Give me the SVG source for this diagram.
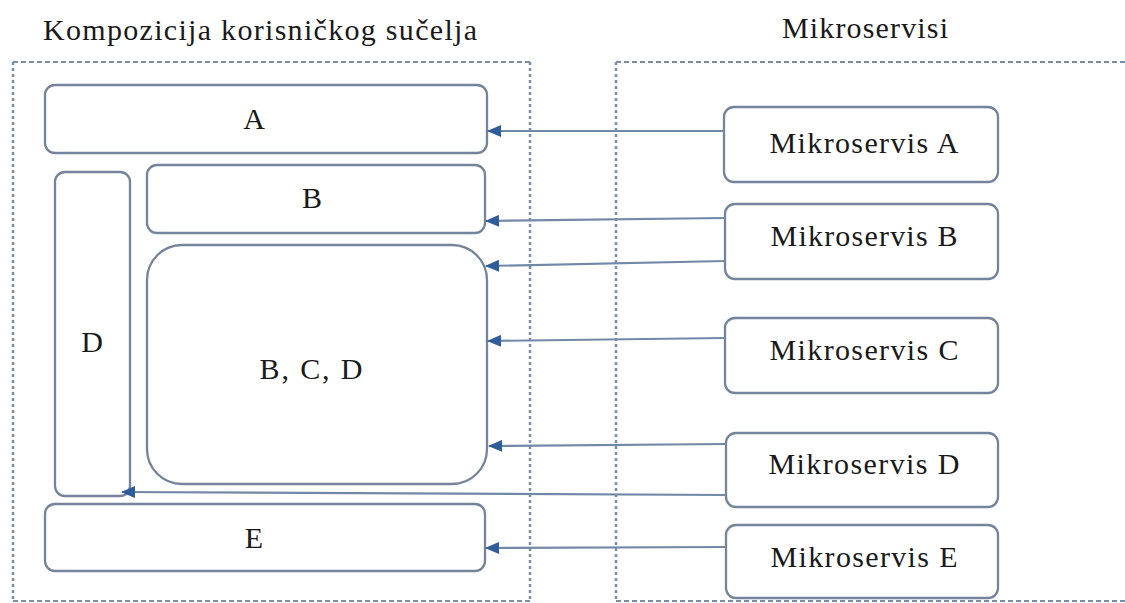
<svg xmlns="http://www.w3.org/2000/svg" width="1125" height="603" viewBox="0 0 1125 603">
<style>
.bg{fill:#ffffff}
.cont{fill:none;stroke:#7b8ea8;stroke-width:2}
.dash{stroke-dasharray:5 3}
.dot{stroke-dasharray:3 3;stroke-width:2.5}
.box{fill:#ffffff;stroke:#74849a;stroke-width:2.3}
.t{font-family:"Liberation Serif","DejaVu Serif",serif;font-size:30px;fill:#1a1a1a;text-anchor:middle}
.h{font-family:"Liberation Serif","DejaVu Serif",serif;font-size:30px;fill:#1a1a1a;text-anchor:middle}
.c{fill:none;stroke:#7289a6;stroke-width:2.2}
</style>
<defs>
<marker id="ah" viewBox="0 0 14 12" refX="13" refY="6" markerWidth="14" markerHeight="12" markerUnits="userSpaceOnUse" orient="auto">
<path d="M0,0 L14,6 L0,12 Z" fill="#2f5d99"/>
</marker>
</defs>
<rect class="bg" x="0" y="0" width="1125" height="603"/>
<g id="containers">
<g id="left-container">
<line class="cont dash" x1="13" y1="62" x2="530" y2="62"/>
<line class="cont dot" x1="13" y1="62" x2="13" y2="601"/>
<line class="cont dot" x1="530" y1="62" x2="530" y2="601"/>
<line class="cont dash" x1="13" y1="601" x2="530" y2="601"/>
<text class="h" x="260" y="40" textLength="434" lengthAdjust="spacing">Kompozicija korisničkog sučelja</text>
</g>
<g id="right-container">
<line class="cont dash" x1="616" y1="62" x2="1125" y2="62"/>
<line class="cont dot" x1="616" y1="62" x2="616" y2="601"/>
<line class="cont dash" x1="616" y1="601" x2="1125" y2="601"/>
<text class="h" x="865" y="38" textLength="166" lengthAdjust="spacing">Mikroservisi</text>
</g>
</g>
<g id="node-A"><rect class="box" x="45" y="85" width="442" height="68" rx="10"/><text class="t" x="254" y="129">A</text></g>
<g id="node-B"><rect class="box" x="147" y="165" width="338" height="68" rx="10"/><text class="t" x="312" y="208">B</text></g>
<g id="node-D"><rect class="box" x="55" y="172" width="75" height="324" rx="10"/><text class="t" x="92" y="352">D</text></g>
<g id="node-BCD"><rect class="box" x="147" y="245" width="340" height="239" rx="35"/><text class="t" x="311" y="379" textLength="103" lengthAdjust="spacing">B, C, D</text></g>
<g id="node-E"><rect class="box" x="45" y="504" width="440" height="67" rx="10"/><text class="t" x="254" y="548">E</text></g>
<g id="node-MA"><rect class="box" x="724" y="107" width="274" height="75" rx="10"/><text class="t" x="864" y="153" textLength="189" lengthAdjust="spacing">Mikroservis A</text></g>
<g id="node-MB"><rect class="box" x="725" y="204" width="273" height="75" rx="10"/><text class="t" x="864" y="246" textLength="187" lengthAdjust="spacing">Mikroservis B</text></g>
<g id="node-MC"><rect class="box" x="725" y="318" width="273" height="75" rx="10"/><text class="t" x="864" y="360" textLength="189" lengthAdjust="spacing">Mikroservis C</text></g>
<g id="node-MD"><rect class="box" x="726" y="433" width="272" height="74" rx="10"/><text class="t" x="864" y="474" textLength="191" lengthAdjust="spacing">Mikroservis D</text></g>
<g id="node-ME"><rect class="box" x="726" y="525" width="272" height="73" rx="10"/><text class="t" x="864" y="567" textLength="187" lengthAdjust="spacing">Mikroservis E</text></g>
<g id="connectors">
<line class="c" x1="724" y1="131" x2="488" y2="131" marker-end="url(#ah)"/>
<line class="c" x1="725" y1="218" x2="486" y2="221" marker-end="url(#ah)"/>
<line class="c" x1="725" y1="261" x2="486" y2="266" marker-end="url(#ah)"/>
<line class="c" x1="725" y1="338" x2="488" y2="341" marker-end="url(#ah)"/>
<line class="c" x1="726" y1="444" x2="489" y2="446" marker-end="url(#ah)"/>
<line class="c" x1="726" y1="495" x2="122" y2="492" marker-end="url(#ah)"/>
<line class="c" x1="726" y1="547" x2="486" y2="548" marker-end="url(#ah)"/>
</g>
</svg>
